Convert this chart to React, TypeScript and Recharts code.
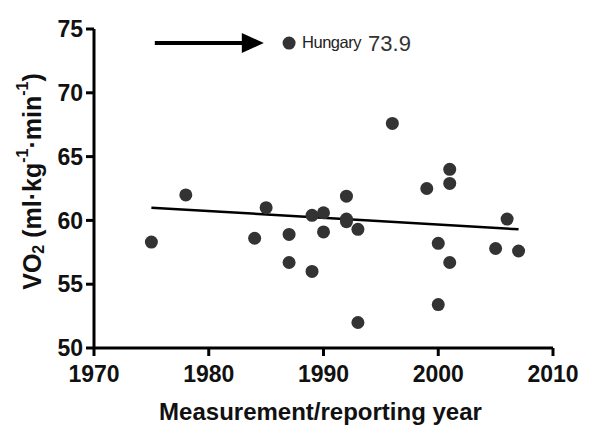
import React from 'react';
import {
  ScatterChart,
  Scatter,
  XAxis,
  YAxis,
  ReferenceLine,
} from 'recharts';

// measurement year and VO2 max (ml/kg/min) per country
const years = [
  1975, 1978, 1984, 1985, 1987, 1987, 1989, 1989, 1990, 1990, 1992, 1992, 1992,
  1993, 1993, 1996, 1999, 2000, 2000, 2001, 2001, 2001, 2005, 2006, 2007,
];
const vo2 = [
  58.3, 62.0, 58.6, 61.0, 58.9, 56.7, 60.4, 56.0, 60.6, 59.1, 61.9, 60.1, 59.9,
  59.3, 52.0, 67.6, 62.5, 58.2, 53.4, 64.0, 62.9, 56.7, 57.8, 60.1, 57.6,
];

// outlier
const outlierName = 'Hungary';
const outlierYear = 1987;
const outlierValue = 73.9;

// regression line end points
const trendYears = [1975, 2007];
const trendValues = [61.0, 59.3];

// arrow pointing at the outlier
const arrowYears = [1975.3, 1984.8];

const xTicks = [1970, 1980, 1990, 2000, 2010];
const yTicks = [50, 55, 60, 65, 70, 75];

const points = years.map((y, i) => ({ x: y, y: vo2[i] }));
const outlier = [{ x: outlierYear, y: outlierValue, name: outlierName }];

const FONT = '"Liberation Sans", Arial, sans-serif';
const DOT = '#333333';

const Arrow = (props: any) => {
  const { x1, y1, x2 } = props;
  const head = 22;
  return (
    <g>
      <line x1={x1} y1={y1} x2={x2 - head + 2} y2={y1} stroke="#000" strokeWidth={4} />
      <polygon
        points={`${x2 - head},${y1 - 10} ${x2},${y1} ${x2 - head},${y1 + 10}`}
        fill="#000"
      />
    </g>
  );
};

const OutlierDot = (props: any) => {
  const { cx, cy, payload } = props;
  return (
    <g>
      <circle cx={cx} cy={cy} r={6.5} fill={DOT} />
      <text x={cx + 13} y={cy + 5} fontFamily={FONT} fontSize={16.5} fill="#222" letterSpacing={-0.5}>
        {payload.name}
      </text>
      <text x={cx + 79} y={cy + 8} fontFamily={FONT} fontSize={22} fill="#333">
        {payload.y}
      </text>
    </g>
  );
};

const YLabel = (props: any) => {
  const { viewBox } = props;
  const cx = viewBox.x + 32;
  const cy = viewBox.y + viewBox.height / 2 - 7;
  return (
    <text
      x={cx}
      y={cy}
      transform={`rotate(-90, ${cx}, ${cy})`}
      textAnchor="middle"
      dominantBaseline="central"
      fontFamily={FONT}
      fontWeight="bold"
      fontSize={25}
      fill="#111"
    >
      VO<tspan fontSize={16} dy={6}>2</tspan>
      <tspan dy={-6}> (ml·kg</tspan>
      <tspan fontSize={16} dy={-10}>-1</tspan>
      <tspan dy={10}>·min</tspan>
      <tspan fontSize={16} dy={-10}>-1</tspan>
      <tspan dy={10}>)</tspan>
    </text>
  );
};

const XLabel = (props: any) => {
  const { viewBox } = props;
  return (
    <text
      x={viewBox.x + viewBox.width / 2 - 3}
      y={420}
      textAnchor="middle"
      fontFamily={FONT}
      fontWeight="bold"
      fontSize={24}
      fill="#111"
    >
      Measurement/reporting year
    </text>
  );
};

export default function App() {
  return (
    <div style={{ position: 'absolute', left: 0, top: 0, width: 600, height: 439, background: '#fff' }}>
      <ScatterChart
        width={600}
        height={439}
        margin={{ top: 29, right: 47, bottom: 0, left: 0 }}
      >
        <XAxis
          type="number"
          dataKey="x"
          domain={[1970, 2010]}
          ticks={xTicks}
          height={91}
          axisLine={{ stroke: '#000', strokeWidth: 3 }}
          tickLine={{ stroke: '#000', strokeWidth: 3 }}
          tickSize={8}
          tickMargin={10}
          tick={{ fill: '#111', fontSize: 23, fontWeight: 'bold', fontFamily: FONT }}
          label={{ content: <XLabel /> }}
        />
        <YAxis
          type="number"
          dataKey="y"
          domain={[50, 75]}
          ticks={yTicks}
          width={94}
          axisLine={{ stroke: '#000', strokeWidth: 3 }}
          tickLine={{ stroke: '#000', strokeWidth: 3 }}
          tickSize={8}
          tickMargin={3}
          tick={{ fill: '#111', fontSize: 23, fontWeight: 'bold', fontFamily: FONT }}
          label={{ content: <YLabel /> }}
        />
        <ReferenceLine
          segment={[
            { x: trendYears[0], y: trendValues[0] },
            { x: trendYears[1], y: trendValues[1] },
          ]}
          stroke="#000"
          strokeWidth={2.5}
        />
        <ReferenceLine
          segment={[
            { x: arrowYears[0], y: outlierValue },
            { x: arrowYears[1], y: outlierValue },
          ]}
          shape={<Arrow />}
        />
        <Scatter data={points} fill={DOT} isAnimationActive={false} shape={(p: any) => <circle cx={p.cx} cy={p.cy} r={6.5} fill={DOT} />} />
        <Scatter data={outlier} fill={DOT} isAnimationActive={false} shape={<OutlierDot />} />
      </ScatterChart>
    </div>
  );
}
